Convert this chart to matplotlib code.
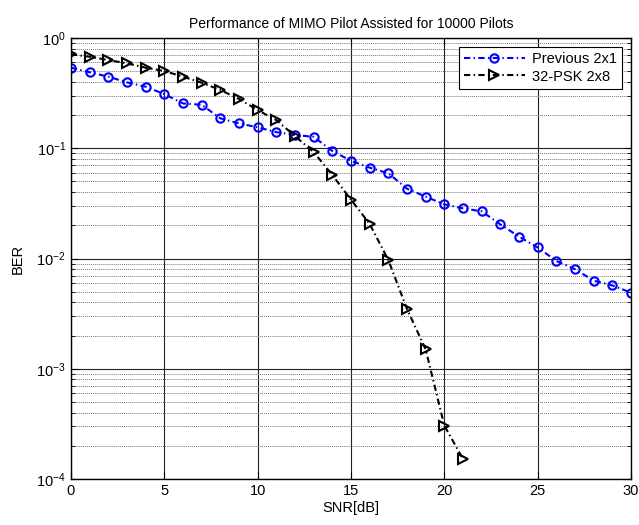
import numpy as np
import matplotlib
matplotlib.use("Agg")
import matplotlib.pyplot as plt
from matplotlib.ticker import LogLocator

plt.rcParams['font.family'] = ['Liberation Sans', 'DejaVu Sans']

# SNR axis
snr_prev = list(range(0, 31))
ber_prev = [0.538, 0.489, 0.446, 0.396, 0.362, 0.310, 0.255, 0.248, 0.187, 0.168,
            0.155, 0.140, 0.132, 0.127, 0.0945, 0.077, 0.0667, 0.0593, 0.0430, 0.0364,
            0.0310, 0.0285, 0.0268, 0.0204, 0.0158, 0.0126, 0.0095, 0.0080, 0.0063,
            0.0057, 0.0049]

snr_psk = list(range(0, 22))
ber_psk = [0.711, 0.677, 0.631, 0.589, 0.538, 0.502, 0.446, 0.393, 0.338, 0.280,
           0.222, 0.180, 0.129, 0.0925, 0.0572, 0.0342, 0.0206, 0.0097, 0.00348,
           0.0015, 0.000305, 0.000152]

labels = ['Previous 2x1', '32-PSK 2x8']
title = 'Performance of MIMO Pilot Assisted for 10000 Pilots'


def main():
    fig = plt.figure(figsize=(6.39, 5.25), dpi=100)
    ax = fig.add_axes([0.111, 0.0876, 0.8765, 0.84])

    dashdot = (0, (3, 1.6, 0.7, 1.6))
    ax.semilogy(snr_prev, ber_prev, ls=dashdot, marker='o', color='#0000ff', lw=1.5,
                markersize=6, markerfacecolor='none', markeredgewidth=1.5,
                label=labels[0])
    ax.semilogy(snr_psk, ber_psk, ls=dashdot, marker='>', color='black', lw=1.5,
                markersize=7, markerfacecolor='none', markeredgewidth=1.5,
                label=labels[1])

    ax.set_xlim(0, 30)
    ax.set_ylim(1e-4, 1)
    ax.set_xticks(range(0, 31, 5))
    ax.yaxis.set_major_locator(LogLocator(base=10, numticks=10))
    ax.yaxis.set_minor_locator(LogLocator(base=10, subs=np.arange(2, 10), numticks=10))

    # matlab style grid
    ax.grid(True, which='major', color='#222222', lw=0.8, ls='-')
    ax.grid(True, which='minor', axis='y', color='#777777', lw=0.7, ls=(0, (1, 1)))
    ax.set_axisbelow(True)

    ax.tick_params(which='both', direction='in', top=True, right=True, labelsize=10.5)
    ax.tick_params(which='major', length=5)
    ax.tick_params(which='minor', length=3)
    for s in ax.spines.values():
        s.set_linewidth(1.0)

    ax.set_title(title, fontsize=10, pad=7)
    ax.set_xlabel('SNR[dB]', fontsize=10.5, labelpad=2)
    ax.set_ylabel('BER', fontsize=10.5, labelpad=8)

    leg = ax.legend(loc='upper right', fontsize=10.5, fancybox=False, edgecolor='black',
                    framealpha=1, borderaxespad=0.6, handlelength=4.2,
                    handletextpad=0.5, borderpad=0.35, labelspacing=0.25)
    leg.get_frame().set_linewidth(0.8)

    fig.savefig('out.png', dpi=100)


if __name__ == "__main__":
    main()
